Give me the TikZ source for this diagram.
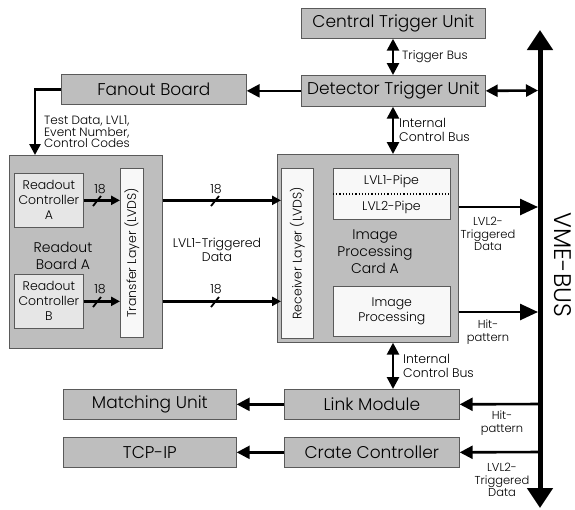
\documentclass[tikz,border=0pt]{standalone}
\usepackage{fontspec}
\setmainfont{Poppins Light}
\usetikzlibrary{arrows.meta}
\definecolor{boxgray}{RGB}{190,190,190}
\definecolor{lightbox}{RGB}{230,230,230}
\definecolor{whitebox}{RGB}{248,248,248}
\definecolor{edge}{RGB}{90,90,90}
\begin{document}
\begin{tikzpicture}[x=1pt,y=-1pt,
  box/.style={draw=edge, fill=boxgray, line width=0.7pt, inner sep=0pt, anchor=north west, align=center},
  bigtxt/.style={font=\fontsize{17}{20}\selectfont},
  midtxt/.style={font=\fontsize{14}{17}\selectfont},
  rctxt/.style={font=\fontsize{12.5}{15}\selectfont},
  smalltxt/.style={font=\fontsize{11.5}{12.8}\selectfont, align=center, inner sep=0pt},
  conn/.style={line width=2.6pt},
  arr/.style={conn, -{Triangle[length=13pt,width=13pt]}},
  darr/.style={conn, {Triangle[length=12pt,width=12pt]}-{Triangle[length=12pt,width=12pt]}},
  sarr/.style={conn, -{Triangle[length=9pt,width=9pt]}},
  barr/.style={conn, -{Triangle[length=18pt,width=16pt]}},
  slashmark/.style={line width=1.8pt},
]
\useasboundingbox (0,0) rectangle (575,509);

% top boxes
\node[box, bigtxt, minimum width=184pt, minimum height=30pt] (ctu) at (301,8) {Central Trigger Unit};
\node[box, bigtxt, minimum width=184pt, minimum height=31pt] (dtu) at (301,75) {Detector Trigger Unit};
\node[box, bigtxt, minimum width=185pt, minimum height=30pt] (fanout) at (61,74) {Fanout Board};

% readout board
\node[box, minimum width=153pt, minimum height=193pt] (rba) at (9,155) {};
\node[box, fill=lightbox, rctxt, minimum width=69pt, minimum height=54pt] (rca) at (14,173) {Readout\\Controller\\A};
\node[box, fill=lightbox, rctxt, minimum width=69pt, minimum height=54pt] (rcb) at (14,274) {Readout\\Controller\\B};
\node[box, fill=whitebox, minimum width=23pt, minimum height=169pt] (transfer) at (120,168) {};
\node[rctxt, rotate=90, inner sep=0pt] (transfertxt) at (transfer.center) {Transfer Layer (LVDS)};
\node[midtxt, align=center, inner sep=0pt] (rbatxt) at (63,256) {Readout\\Board A};

% image processing card
\node[box, minimum width=181pt, minimum height=188pt] (ipc) at (277,154) {};
\node[box, fill=whitebox, minimum width=32pt, minimum height=170pt] (recv) at (281,168) {};
\node[rctxt, rotate=90, inner sep=0pt] (recvtxt) at (recv.center) {Receiver Layer (LVDS)};
\node[box, fill=whitebox, minimum width=117pt, minimum height=51pt] (pipe) at (333,168) {};
\node[rctxt, inner sep=0pt] (lvl1pipe) at (391.5,181) {LVL1-Pipe};
\node[rctxt, inner sep=0pt] (lvl2pipe) at (391.5,207) {LVL2-Pipe};
\draw[dotted, line width=1.2pt] (pipe.west |- 0,194) coordinate (dl) -- (pipe.east |- dl);
\node[box, fill=whitebox, rctxt, minimum width=117pt, minimum height=50pt] (improc) at (333,286) {Image\\Processing};
\node[midtxt, align=center, inner sep=0pt] (ipctxt) at (375,252) {Image\\Processing\\Card A};

% bottom boxes
\node[box, bigtxt, minimum width=173pt, minimum height=30pt] (match) at (63,389) {Matching Unit};
\node[box, bigtxt, minimum width=175pt, minimum height=30pt] (link) at (284,389) {Link Module};
\node[box, bigtxt, minimum width=173pt, minimum height=30pt] (tcp) at (63,437) {TCP-IP};
\node[box, bigtxt, minimum width=175pt, minimum height=30pt] (crate) at (284,437) {Crate Controller};

% VME bus
\coordinate (vmetop) at (540,30);
\coordinate (vmebot) at (540,508);
\draw[line width=5pt, {Triangle[length=20pt,width=25pt]}-{Triangle[length=20pt,width=25pt]}] (vmebot) -- (vmetop);
\node[font=\fontsize{24}{28}\selectfont, rotate=-90, inner sep=0pt] (vmetxt) at (563,265) {VME-BUS};
\coordinate (b1) at (538,90.5);
\coordinate (b2) at (538,207);
\coordinate (b3) at (538,312);
\coordinate (b4) at (540,404);
\coordinate (b5) at (540,452);
\coordinate (busx) at (393,0);
\coordinate (fanx) at (35,0);

% connectors
\draw[darr] (dtu.east) -- (b1);
\draw[arr] (dtu.west) -- (dtu.west -| fanout.east);
\draw[darr] (ctu.south -| busx) -- (dtu.north -| busx);
\draw[darr] (dtu.south -| busx) -- (ipc.north -| busx);
\draw[darr] (ipc.south -| busx) -- (link.north -| busx);
\draw[conn, -{Triangle[length=11pt,width=11pt]}] (fanout.west) -- (fanout.west -| fanx) -- (rba.north -| fanx);

\draw[sarr] (rca.east) -- (rca.east -| transfer.west);
\draw[sarr] (rcb.east) -- (rcb.east -| transfer.west);
\draw[sarr] (rba.east |- rca.east) -- (recv.west |- rca.east);
\draw[sarr] (rba.east |- rcb.east) -- (recv.west |- rcb.east);
\draw[slashmark] (93,206) -- (101,196);
\draw[slashmark] (93,307) -- (101,297);
\draw[slashmark] (211,206) -- (219,196);
\draw[slashmark] (211,307) -- (219,297);

\draw[barr] (ipc.east |- b2) -- (b2);
\draw[barr] (ipc.east |- b3) -- (b3);
\draw[arr] (b4) -- (link.east);
\draw[arr] (b5) -- (crate.east);
\draw[arr] (link.west) -- (match.east);
\draw[arr] (crate.west) -- (tcp.east);

% labels
\node[smalltxt, font=\fontsize{12}{14}\selectfont, anchor=west] (tblabel) at (402,57) {Trigger Bus};
\node[smalltxt, font=\fontsize{12.5}{14}\selectfont, anchor=west, align=left] (icb1) at (399,130) {Internal\\Control Bus};
\node[smalltxt, font=\fontsize{12.5}{14}\selectfont, anchor=west, align=left] (icb2) at (403,366) {Internal\\Control Bus};
\node[smalltxt, font=\fontsize{12}{11.5}\selectfont, anchor=west, align=left] (fanlabel) at (44,132) {Test Data, LVL1,\\Event Number,\\Control Codes};
\node[rctxt, inner sep=0pt] (n1) at (100,189) {18};
\node[rctxt, inner sep=0pt] (n2) at (100,289) {18};
\node[rctxt, inner sep=0pt] (n3) at (216,189) {18};
\node[rctxt, inner sep=0pt] (n4) at (216,289) {18};
\node[midtxt, font=\fontsize{12.5}{14.5}\selectfont, align=center, inner sep=0pt] (lvl1data) at (217,250) {LVL1-Triggered\\Data};
\node[smalltxt] (lvl2a) at (488,234) {LVL2-\\Triggered\\Data};
\node[smalltxt] (hita) at (488,332) {Hit-\\pattern};
\node[smalltxt] (hitb) at (502,423) {Hit-\\pattern};
\node[smalltxt] (lvl2b) at (502,480) {LVL2-\\Triggered\\Data};
\end{tikzpicture}
\end{document}
